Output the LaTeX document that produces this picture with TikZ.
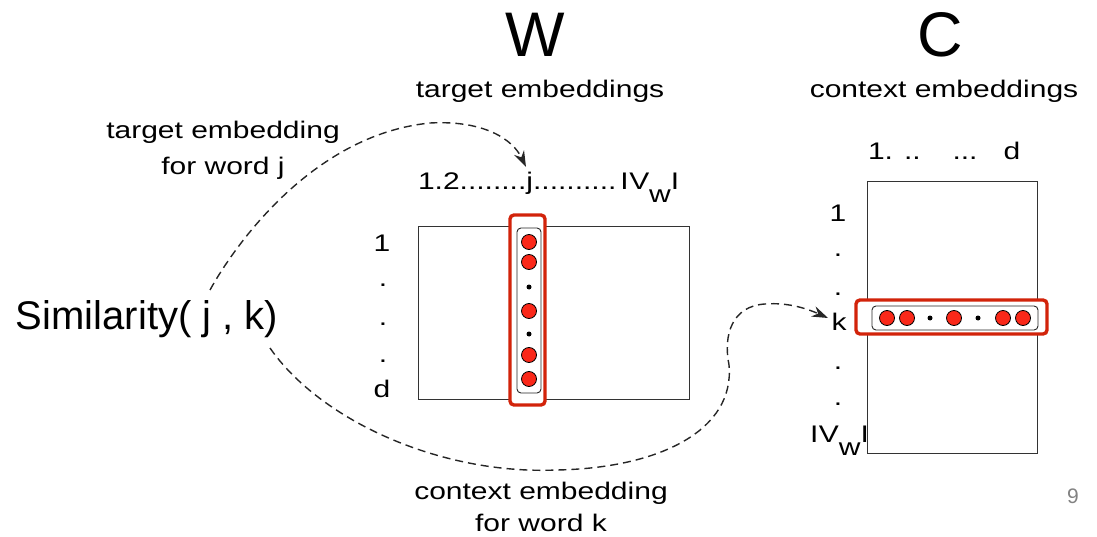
\documentclass[tikz,border=0pt]{standalone}
\usepackage{fontspec}
\setmainfont{Liberation Sans}
\newfontfamily\lblfont[FakeStretch=1.25]{Liberation Sans}
\usetikzlibrary{arrows.meta}
\definecolor{boxred}{RGB}{210,35,10}
\definecolor{ballred}{RGB}{250,40,25}
\definecolor{pagegray}{RGB}{130,130,130}
\newcommand{\Vw}{I\kern0.5pt V\raisebox{-13pt}{w}I}
\begin{document}
\begin{tikzpicture}[x=1pt,y=-1pt,
  txt/.style={inner sep=0pt, outer sep=0pt, anchor=base},
  title/.style={txt, font=\fontsize{63}{63}\selectfont},
  lbl/.style={txt, font=\lblfont\fontsize{24}{26}\selectfont},
  big/.style={txt, font=\fontsize{40}{40}\selectfont},
  matrixbox/.style={draw=black!80, line width=1pt, inner sep=0pt, fill=white},
  redbox/.style={draw=boxred, line width=3.4pt, rounded corners=4pt, fill=white, inner sep=0pt},
  vecbox/.style={draw=black!85, line width=0.9pt, rounded corners=4pt, fill=white, inner sep=0pt},
  ball/.style={circle, draw=black, line width=0.8pt, fill=ballred, minimum size=15pt, inner sep=0pt},
  dotc/.style={circle, fill=black, minimum size=5pt, inner sep=0pt},
  link/.style={dash pattern=on 8pt off 5pt, line width=1.4pt, black!85},
  tip/.style={-{Stealth[length=16pt,width=11pt]}}
]
\useasboundingbox (0,0) rectangle (1097,537);

% titles
\node[title] (W) at (535,57) {W};
\node[title] (C) at (940,57) {C};
\node[lbl] (tW) at (540,98) {target embeddings};
\node[lbl] (tC) at (944,98) {context embeddings};

% left labels
\node[lbl] (lj1) at (223,139) {target embedding};
\node[lbl] (lj2) at (223,175) {for word j};
\node[big, anchor=base west] (sim) at (16,329) {Similarity( j , k)};
\node[lbl] (lk1) at (541,499) {context embedding};
\node[lbl] (lk2) at (541,531) {for word k};

% W matrix
\node[matrixbox, minimum width=271pt, minimum height=172pt] (Wm) at (553.5,313) {};
\node[lbl, anchor=base west] (Whead) at (418,190) {1.2........j..........\kern4pt\Vw};
\node[lbl] (Wr1) at (382,252) {1};
\node[lbl] (Wr2) at (383,287) {.};
\node[lbl] (Wr3) at (383,325) {.};
\node[lbl] (Wr4) at (383,362) {.};
\node[lbl] (Wrd) at (382,397) {d};
\node[redbox, minimum width=35pt, minimum height=190pt] (Wred) at (527.5,310) {};
\node[vecbox, minimum width=24pt, minimum height=165pt] (Wvec) at (529,310.5) {};
\node[ball] (wb1) at (529,242) {};
\node[ball] (wb2) at (529,262) {};
\node[dotc] (wd1) at (529,287) {};
\node[ball] (wb3) at (529,311) {};
\node[dotc] (wd2) at (529,334) {};
\node[ball] (wb4) at (529,355) {};
\node[ball] (wb5) at (529,379) {};

% C matrix
\node[matrixbox, minimum width=170pt, minimum height=271pt] (Cm) at (952,317.5) {};
\node[lbl, anchor=base west] (Ch1) at (868,160) {1. ..};
\node[lbl] (Ch2) at (965,160) {...};
\node[lbl] (Ch3) at (1012,160) {d};
\node[lbl] (Cr1) at (838,222) {1};
\node[lbl] (Cr2) at (838,257) {.};
\node[lbl] (Cr3) at (838,295) {.};
\node[lbl] (Crk) at (839,330) {k};
\node[lbl] (Cr4) at (838,369) {.};
\node[lbl] (Cr5) at (838,405) {.};
\node[lbl, anchor=base west] (CrV) at (810,442) {\Vw};
\node[redbox, minimum width=191pt, minimum height=34pt] (Cred) at (951.5,317) {};
\node[vecbox, minimum width=166pt, minimum height=24pt] (Cvec) at (955,318) {};
\node[ball] (cb1) at (887,318) {};
\node[ball] (cb2) at (907,318) {};
\node[dotc] (cd1) at (930,318) {};
\node[ball] (cb3) at (954,318) {};
\node[dotc] (cd2) at (978,318) {};
\node[ball] (cb4) at (1003,318) {};
\node[ball] (cb5) at (1023,318) {};

% page number
\node[txt, font=\fontsize{21}{21}\selectfont, text=pagegray] (pg) at (1073,503) {9};

% connectors
\coordinate (s1) at (210,290);
\coordinate (s2) at (270,348);
\coordinate (jtip) at (526,167);
\coordinate (ktip) at (828,318);
\draw[link, tip] (s1) .. controls (232,250) and (310,135) .. (430,123)
  .. controls (485,120) and (513,140) .. (jtip);
\draw[link, tip] (s2) .. controls (320,420) and (440,475) .. (557,470)
  .. controls (660,468) and (735,430) .. (729,365)
  .. controls (723,335) and (732,306) .. (765,304)
  .. controls (790,302) and (810,310) .. (ktip);
\end{tikzpicture}
\end{document}
